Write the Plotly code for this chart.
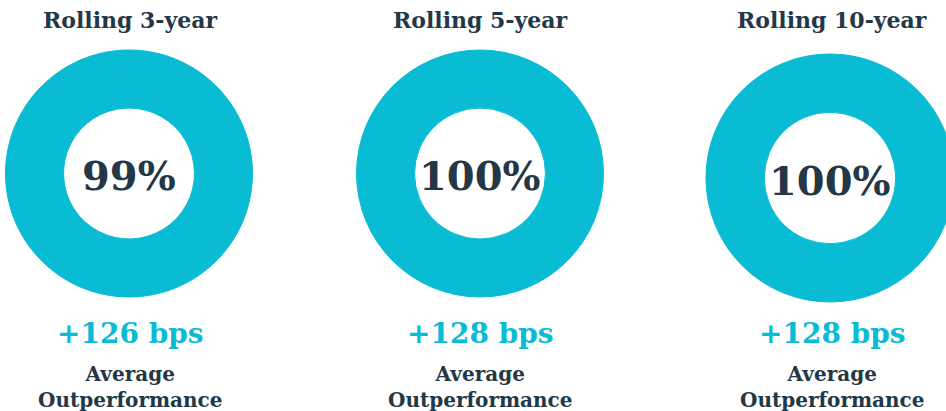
import plotly.graph_objects as go

# Data
periods = ["Rolling 3-year", "Rolling 5-year", "Rolling 10-year"]
pct_outperform = [99, 100, 100]
avg_outperf_bps = [126, 128, 128]
subtitle = "Average<br>Outperformance"

TEAL = "#09BBD3"
DARK = "#243746"
FONT = "DejaVu Serif"

W, H = 960, 411
# donut centers / radii in pixels (layout only)
centers = [(129, 173.5, 123.5), (480, 173.5, 123.5), (830, 178, 124)]
text_x = [130, 480, 832]

fig = go.Figure()
annotations = []
for i, (label, pct, bps) in enumerate(zip(periods, pct_outperform, avg_outperf_bps)):
    cx, cy, r = centers[i]
    fig.add_trace(go.Pie(
        values=[pct, 100 - pct],
        labels=["Outperformed", "Underperformed"],
        hole=0.53,
        sort=False,
        direction="clockwise",
        rotation=0,
        marker=dict(colors=[TEAL, TEAL], line=dict(width=1, color=TEAL)),
        textinfo="none",
        hoverinfo="label+percent",
        showlegend=False,
        domain=dict(x=[(cx - r) / W, (cx + r) / W],
                    y=[(H - cy - r) / H, (H - cy + r) / H]),
    ))
    tx = text_x[i] / W
    annotations.append(dict(text=f"<b>{label}</b>", x=tx, y=1 - 20 / H,
                            font=dict(family=FONT, size=22, color=DARK)))
    annotations.append(dict(text=f"<b>{pct}%</b>", x=cx / W, y=1 - (cy + 2) / H,
                            font=dict(family=FONT, size=40, color=DARK)))
    annotations.append(dict(text=f"<b>+{bps} bps</b>", x=tx, y=1 - 333 / H,
                            font=dict(family=FONT, size=28, color=TEAL)))
    annotations.append(dict(text=f"<b>{subtitle}</b>", x=tx, y=1 - 387 / H,
                            font=dict(family=FONT, size=20, color=DARK)))

for a in annotations:
    a.update(xref="paper", yref="paper", showarrow=False,
             xanchor="center", yanchor="middle")

fig.update_layout(
    width=W, height=H,
    margin=dict(l=0, r=0, t=0, b=0),
    paper_bgcolor="white",
    plot_bgcolor="white",
    annotations=annotations,
)

fig.write_html("out.html",
               config={"displayModeBar": False},
               post_script="document.body.style.margin='0';document.body.style.overflow='hidden';")
